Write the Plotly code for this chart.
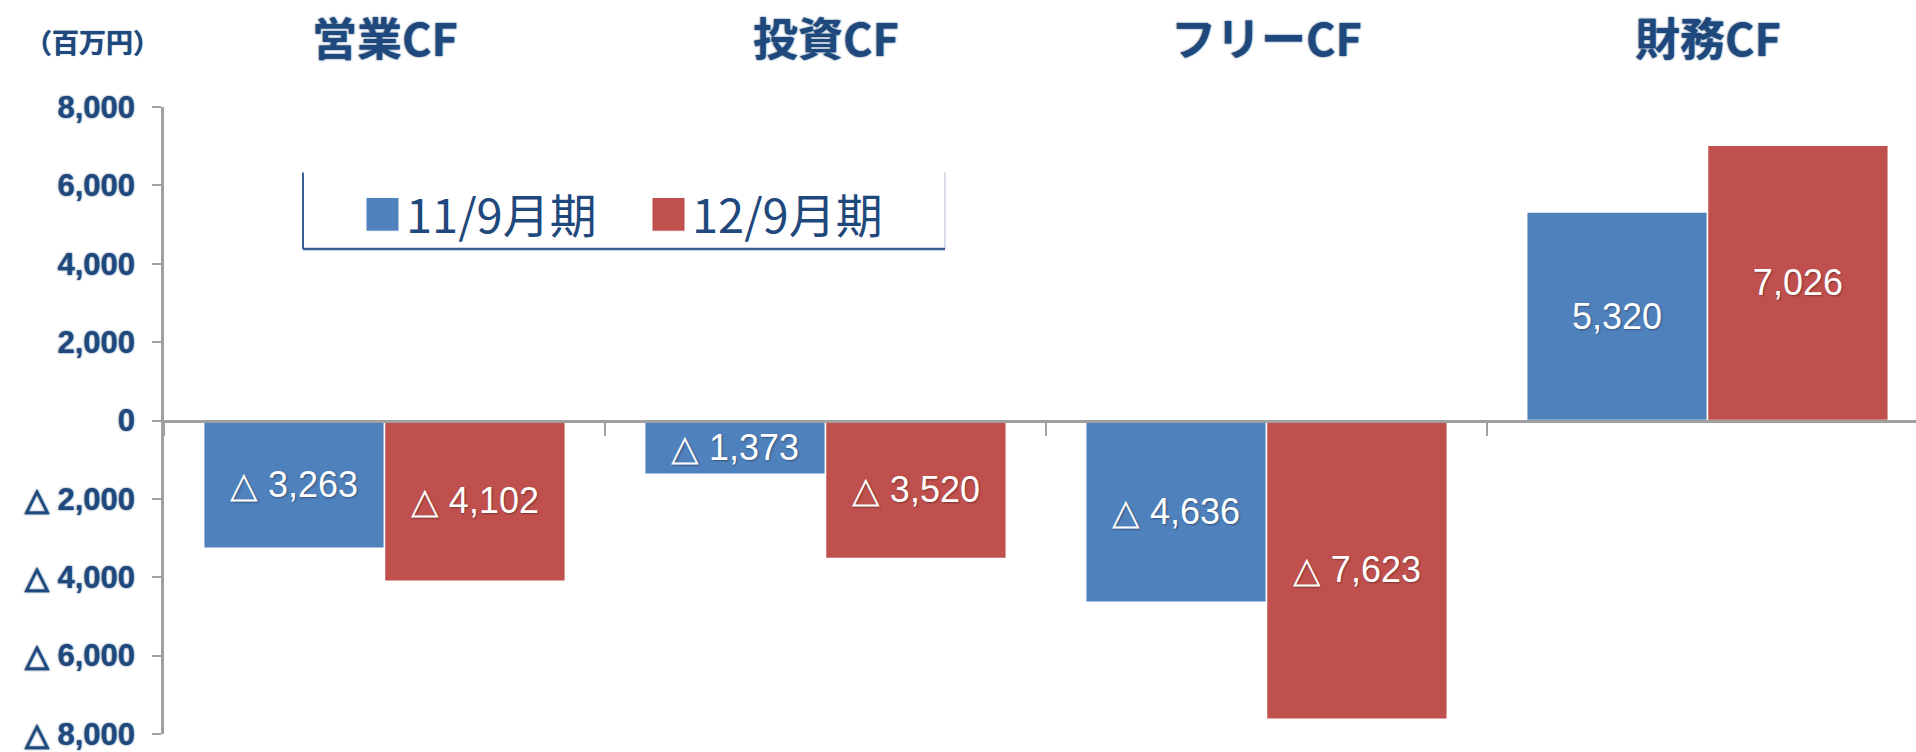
import plotly.graph_objects as go

# ---- data ----
categories = ["営業CF", "投資CF", "フリーCF", "財務CF"]
series_names = ["11/9月期", "12/9月期"]
values_1109 = [-3263, -1373, -4636, 5320]
values_1209 = [-4102, -3520, -7623, 7026]
y_tickvals = [8000, 6000, 4000, 2000, 0, -2000, -4000, -6000, -8000]
y_ticktext = ["8,000", "6,000", "4,000", "2,000", "0", "△ 2,000", "△ 4,000", "△ 6,000", "△ 8,000"]
unit_label = "（百万円）"

BLUE = "#4F81BD"
RED = "#C0504D"
NAVY = "#1F497D"
GRAY = "#A0A0A0"

W, H = 1916, 752
ML, MR, MT, MB = 164, 0, 107, 14
PW, PH = W - ML - MR, H - MT - MB


def px(x):
    return (x - ML) / PW


def py(y):
    return (H - MB - y) / PH


def fmt(v):
    s = f"{abs(v):,}"
    return ("△ " + s) if v < 0 else s


fig = go.Figure()
for name, vals, col in [(series_names[0], values_1109, BLUE), (series_names[1], values_1209, RED)]:
    fig.add_trace(go.Bar(
        x=categories, y=vals, name=name,
        marker=dict(color=col, line=dict(color="white", width=1.5)),
        text=[fmt(v) for v in vals],
        textposition="inside", insidetextanchor="middle", textangle=0,
        constraintext="none",
        textfont=dict(family="Liberation Sans, Arial, sans-serif", size=36, color="white",
                      shadow="1px 1px 2px rgba(0,0,0,0.35)"),
        showlegend=False,
    ))

fig.update_layout(
    width=W, height=H,
    margin=dict(l=ML, r=MR, t=MT, b=MB),
    paper_bgcolor="white", plot_bgcolor="white",
    barmode="group", bargap=0.18, bargroupgap=0,
    xaxis=dict(
        type="category", range=[-0.5, -0.5 + PW / 441.0],
        anchor="free", position=0.5,
        showline=True, linecolor=GRAY, linewidth=2.5,
        ticks="outside", tickson="boundaries", ticklen=14, tickwidth=2, tickcolor=GRAY,
        showticklabels=False, showgrid=False, zeroline=False,
    ),
    yaxis=dict(
        range=[-8000, 8000],
        tickvals=y_tickvals, ticktext=y_ticktext,
        showline=True, linecolor=GRAY, linewidth=2.5,
        ticks="outside", ticklen=9, tickwidth=2, tickcolor=GRAY,
        ticklabelstandoff=11, ticklabeloverflow="allow",
        tickfont=dict(family="Liberation Sans, Arial, sans-serif", size=31, color=NAVY, weight="bold",
                      shadow="0px 0px 2px rgba(31,73,125,0.9)"),
        showgrid=False, zeroline=False,
    ),
    font=dict(family="Noto Sans CJK JP, sans-serif"),
)

annotations = []
# category titles on top
for c in categories:
    annotations.append(dict(
        x=c, xref="x", y=1, yref="paper", yshift=MT - 36, yanchor="middle", xanchor="center",
        text=c, showarrow=False,
        font=dict(family="Noto Sans CJK JP, sans-serif", size=45, color=NAVY, weight="bold",
                  shadow="0px 0px 2px rgba(31,73,125,0.9)"),
    ))
# unit label
annotations.append(dict(
    x=px(92), xref="paper", y=py(41), yref="paper", xanchor="center", yanchor="middle",
    text=unit_label, showarrow=False,
    font=dict(family="Noto Sans CJK JP, sans-serif", size=27, color=NAVY, weight="bold",
              shadow="0px 0px 1px rgba(31,73,125,0.9)"),
))
# legend text
annotations.append(dict(x=px(404), xref="paper", y=py(213), yref="paper", xanchor="left", yanchor="middle",
                        text=series_names[0], showarrow=False,
                        font=dict(family="Noto Sans CJK JP, sans-serif", size=47, color=NAVY)))
annotations.append(dict(x=px(690), xref="paper", y=py(213), yref="paper", xanchor="left", yanchor="middle",
                        text=series_names[1], showarrow=False,
                        font=dict(family="Noto Sans CJK JP, sans-serif", size=47, color=NAVY)))
fig.update_layout(annotations=annotations)

shapes = [
    # legend frame
    dict(type="rect", xref="paper", yref="paper", x0=px(303), x1=px(945), y0=py(250), y1=py(173),
         line=dict(width=0), fillcolor="white", layer="above"),
    dict(type="line", xref="paper", yref="paper", x0=px(945), x1=px(945), y0=py(250), y1=py(173),
         line=dict(color="#C8D2E0", width=1.5), layer="above"),
    dict(type="line", xref="paper", yref="paper", x0=px(303), x1=px(303), y0=py(250), y1=py(173),
         line=dict(color="#3A5F94", width=2), layer="above"),
    dict(type="line", xref="paper", yref="paper", x0=px(303), x1=px(945), y0=py(250), y1=py(250),
         line=dict(color="#3A5F94", width=2.5), layer="above"),
    # legend swatches
    dict(type="rect", xref="paper", yref="paper", x0=px(366), x1=px(399), y0=py(232), y1=py(198),
         line=dict(color="white", width=1), fillcolor=BLUE, layer="above"),
    dict(type="rect", xref="paper", yref="paper", x0=px(652), x1=px(685), y0=py(232), y1=py(198),
         line=dict(color="white", width=1), fillcolor=RED, layer="above"),
]
fig.update_layout(shapes=shapes)

fig.write_html("out.html")
